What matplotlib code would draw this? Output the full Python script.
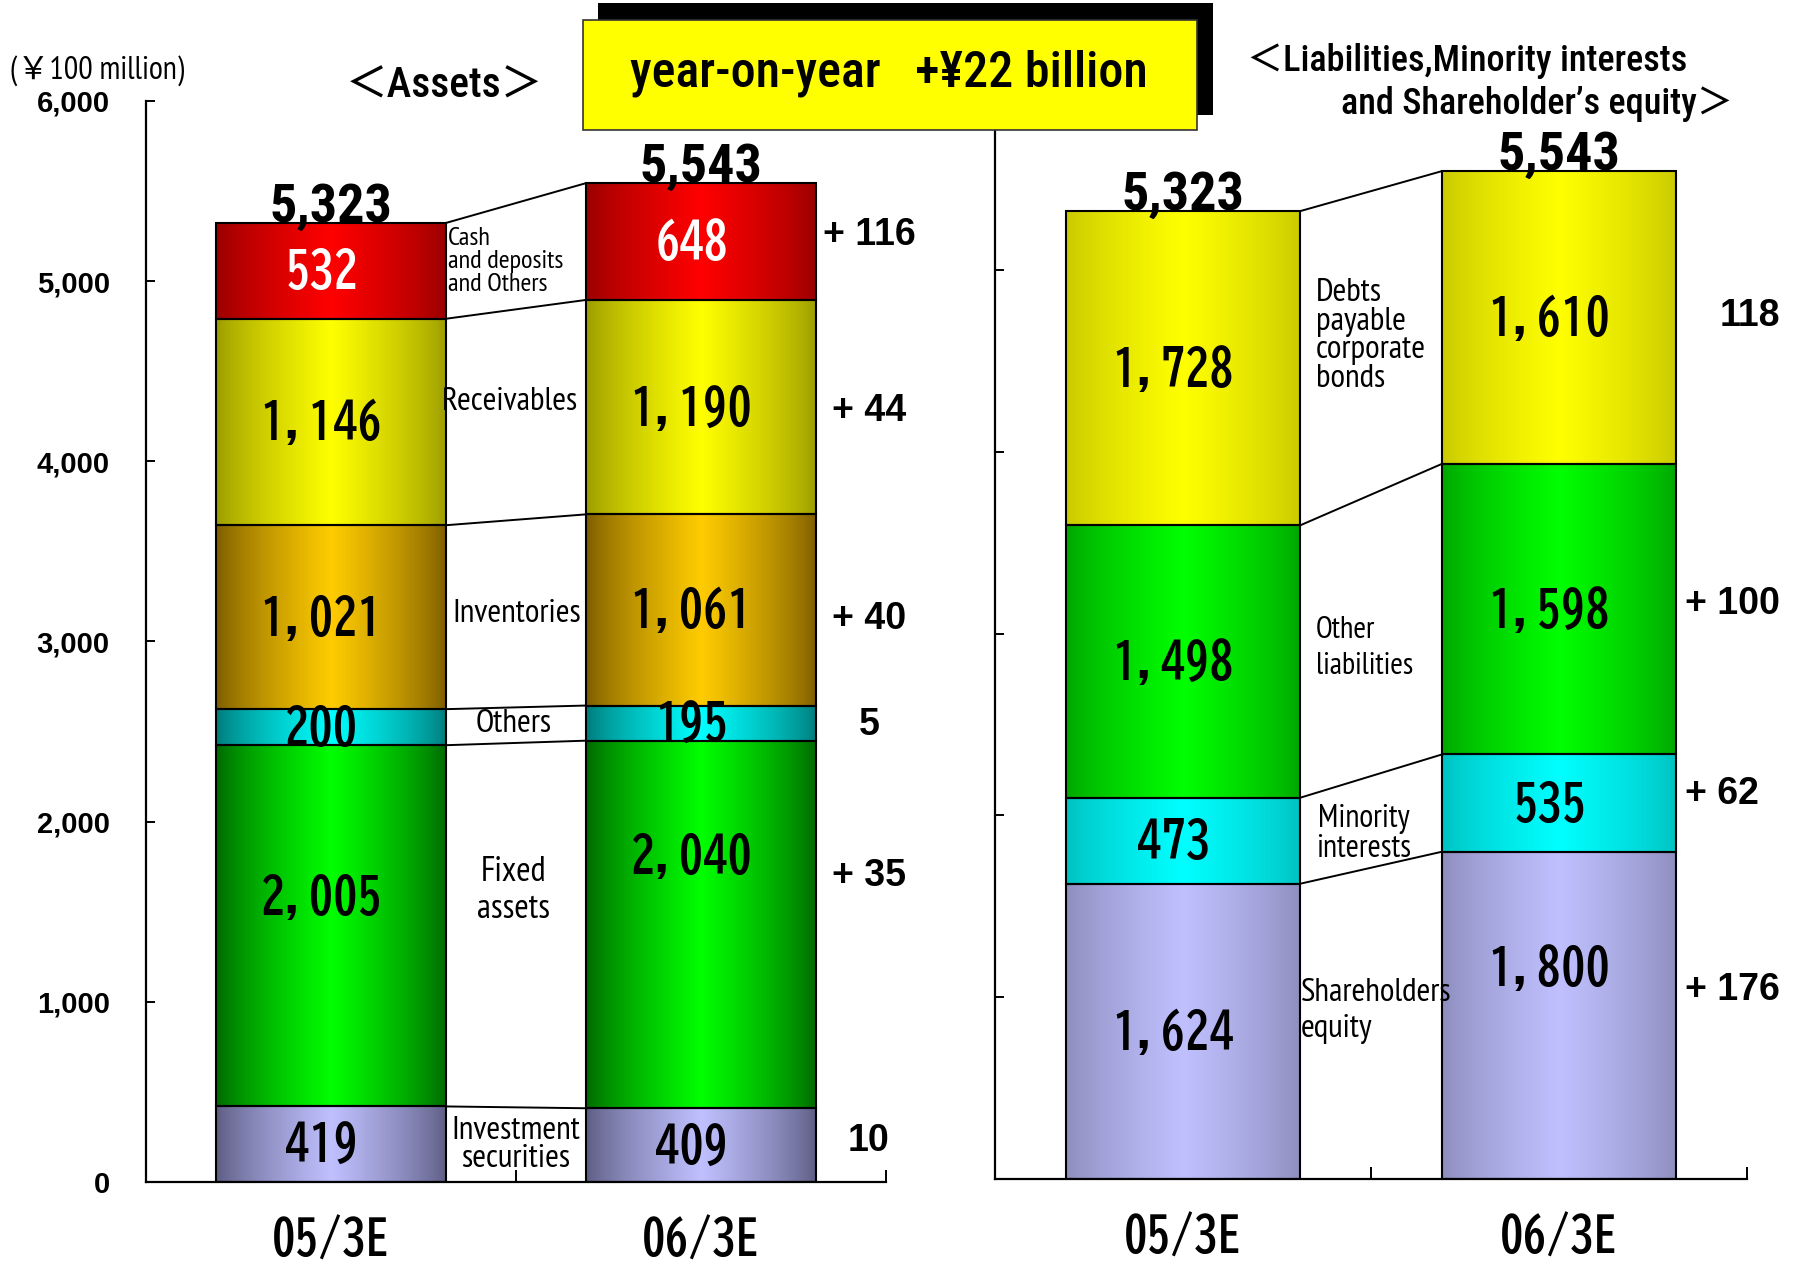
import numpy as np
import matplotlib
matplotlib.use("Agg")
import matplotlib.pyplot as plt
from matplotlib.colors import to_rgb
from matplotlib.patches import Rectangle

# --- Data (¥100 million), stacked bottom -> top ------------------------------
periods = ["05/3E", "06/3E"]

asset_items = ["Investment\nsecurities", "Fixed\nassets", "Others",
               "Inventories", "Receivables", "Cash\nand deposits\nand Others"]
assets_0503 = [419, 2005, 200, 1021, 1146, 532]
assets_0603 = [409, 2040, 195, 1061, 1190, 648]
asset_changes = ["10", "+ 35", "5", "+ 40", "+ 44", "+ 116"]

liab_items = ["Shareholders\nequity", "Minority\ninterests", "Other\nliabilities",
              "Debts\npayable\ncorporate\nbonds"]
liab_0503 = [1624, 473, 1498, 1728]
liab_0603 = [1800, 535, 1598, 1610]
liab_changes = ["+ 176", "+ 62", "+ 100", "118"]

# --- Styling -----------------------------------------------------------------
# (edge colour, centre colour) of the horizontal shading of each block
asset_colors = [("#5a5a80", "#c0c0ff"), ("#006400", "#00ff00"), ("#007878", "#00ffff"),
                ("#7a5a00", "#ffcc00"), ("#999900", "#ffff00"), ("#960000", "#ff0000")]
liab_colors = [("#8c8cbc", "#c0c0ff"), ("#00c0c0", "#00ffff"), ("#00a400", "#00ff00"),
               ("#c8c800", "#ffff00")]
asset_text_colors = ["k", "k", "k", "k", "k", "white"]
liab_text_colors = ["k", "k", "k", "k"]

# label placement: item label (x, y, ha, size, linespacing)
asset_item_pos = [(1.0, 205, "center", 24, 0.95), (0.993, 1620, "center", 25, 1.2),
                  (0.995, 2541, "center", 24, 1.0), (1.002, 3152, "center", 24, 1.0),
                  (0.984, 4329, "center", 24, 1.0), (0.816, 5108, "left", 19, 1.0)]
liab_item_pos = [(0.813, 924, "left", 24, 1.25), (0.981, 1897, "center", 23, 1.0),
                 (0.854, 2920, "left", 22, 1.4), (0.854, 4636, "left", 24, 0.95)]
# vertical nudges of the value labels (data units)
asset_nudge = [[0, 165, 0, 0, 0, 0], [0, 380, 0, 0, 0, 0]]
liab_nudge = [[0, 0, 0, 0], [262, 0, 0, 0]]
asset_change_nudge = [20, 270, -10, -50, -20, 35]
liab_change_nudge = [140, 50, 28, 8]

NARROW = ["PT Sans Narrow", "Noto Sans CJK JP"]
COND = ["Roboto Condensed", "Noto Sans CJK JP"]
GOTHIC = ["BIZ UDGothic", "DejaVu Sans"]
BAR_W = 0.623


def shade(ax, rect, edge, mid):
    """Fill a bar with a dark-bright-dark horizontal gradient."""
    x0, y0 = rect.get_xy()
    t = np.linspace(0, 1, 256)
    k = (1 - np.abs(2 * t - 1)) ** 0.75
    rgb = (np.outer(1 - k, to_rgb(edge)) + np.outer(k, to_rgb(mid)))
    ax.imshow(rgb[None, :, :], extent=(x0, x0 + rect.get_width(), y0, y0 + rect.get_height()),
              aspect="auto", interpolation="bilinear", zorder=1)


def draw_panel(ax, items, v05, v06, colors, txt_colors, item_pos, nudge,
               changes, change_nudge, change_x, change_ha):
    xs = [0.5, 1.5]
    for xi, vals in enumerate([v05, v06]):
        bottoms = np.concatenate([[0], np.cumsum(vals)[:-1]])
        bars = ax.bar([xs[xi]] * len(vals), vals, BAR_W, bottom=bottoms,
                      facecolor="none", edgecolor="k", linewidth=1.5, zorder=2)
        for j, rect in enumerate(bars):
            shade(ax, rect, *colors[j])
            ax.text(xs[xi] - 0.025, bottoms[j] + vals[j] / 2 + nudge[xi][j], f"{vals[j]:,}",
                    ha="center", va="center", fontsize=35, fontweight="bold",
                    family=GOTHIC, color=txt_colors[j], zorder=4)
        total = int(np.sum(vals))
        ax.annotate(f"{total:,}", (xs[xi], total), xytext=(0, 1), textcoords="offset points",
                    ha="center", va="baseline", fontsize=39, fontweight="bold", family=COND,
                    zorder=4)

    # connectors between the stacks
    c05 = np.concatenate([[0], np.cumsum(v05)])
    c06 = np.concatenate([[0], np.cumsum(v06)])
    for a, b in zip(c05[1:], c06[1:]):
        ax.plot([0.5 + BAR_W / 2, 1.5 - BAR_W / 2], [a, b], color="k", lw=1.4, zorder=3)

    for name, (x, y, ha, fs, ls) in zip(items, item_pos):
        ax.text(x, y, name, ha=ha, va="center", fontsize=fs, family=NARROW,
                linespacing=ls, multialignment=ha, zorder=5)

    c06_mid = c06[:-1] + np.asarray(v06) / 2
    for j, lab in enumerate(changes):
        x = change_x[j] if isinstance(change_x, list) else change_x
        ax.text(x, c06_mid[j] + change_nudge[j], lab, ha=change_ha, va="center",
                fontsize=27, fontweight="bold", family=["Liberation Sans"], zorder=4)

    ax.set_xlim(0, 2)
    ax.set_ylim(0, 6000)
    for s in ("top", "right"):
        ax.spines[s].set_visible(False)
    for s in ("left", "bottom"):
        ax.spines[s].set_linewidth(1.6)
    ax.set_yticks(range(0, 6001, 1000))
    ax.tick_params(axis="y", direction="in", length=6.5, width=1.4, pad=26)
    ax.set_xticks([1, 2])
    ax.set_xticklabels([])
    ax.tick_params(axis="x", which="major", direction="in", length=8.5, width=1.4)
    ax.set_xticks(xs, periods, minor=True)
    ax.tick_params(axis="x", which="minor", length=0, pad=24)
    for lab in ax.get_xticklabels(minor=True):
        lab.set_fontsize(34)
        lab.set_fontweight("bold")
        lab.set_family(GOTHIC)


fig = plt.figure(figsize=(18, 12.61), dpi=100)
ax_a = fig.add_axes([0.0811, 0.0627, 0.4111, 0.8573])
ax_l = fig.add_axes([0.5528, 0.0650, 0.4178, 0.8652])

draw_panel(ax_a, asset_items, assets_0503, assets_0603, asset_colors, asset_text_colors,
           asset_item_pos, asset_nudge, asset_changes, asset_change_nudge, 1.954, "center")
draw_panel(ax_l, liab_items, liab_0503, liab_0603, liab_colors, liab_text_colors,
           liab_item_pos, liab_nudge, liab_changes, liab_change_nudge,
           [1.835, 1.835, 1.835, 1.926], "left")

ax_a.set_yticklabels([f"{v:,}" for v in range(0, 6001, 1000)],
                     fontsize=21, fontweight="bold", family=["Liberation Sans"])
ax_l.set_yticklabels([])

# headings
fig.text(0.054, 0.944, "(￥100 million)", ha="center", va="center", fontsize=23, family=NARROW)
fig.text(0.247, 0.932, "＜Assets＞", ha="center", va="center", fontsize=30,
         fontweight="medium", family=COND)
fig.text(0.693, 0.952, "＜Liabilities,Minority interests", ha="left", va="center",
         fontsize=26, fontweight="medium", family=COND)
fig.text(0.963, 0.9175, "and Shareholder’s equity＞", ha="right", va="center",
         fontsize=26, fontweight="medium", family=COND)

# year-on-year callout with drop shadow
fig.patches.append(Rectangle((0.332, 0.909), 0.342, 0.089, transform=fig.transFigure,
                             facecolor="black", edgecolor="none", zorder=10))
fig.patches.append(Rectangle((0.324, 0.897), 0.341, 0.087, transform=fig.transFigure,
                             facecolor="#ffff00", edgecolor="#333333", lw=1.2, zorder=11))
fig.text(0.494, 0.942, "year-on-year   +¥22 billion", ha="center", va="center",
         fontsize=36, fontweight="medium", family=COND, zorder=12)

fig.savefig("out.png", dpi=100)
